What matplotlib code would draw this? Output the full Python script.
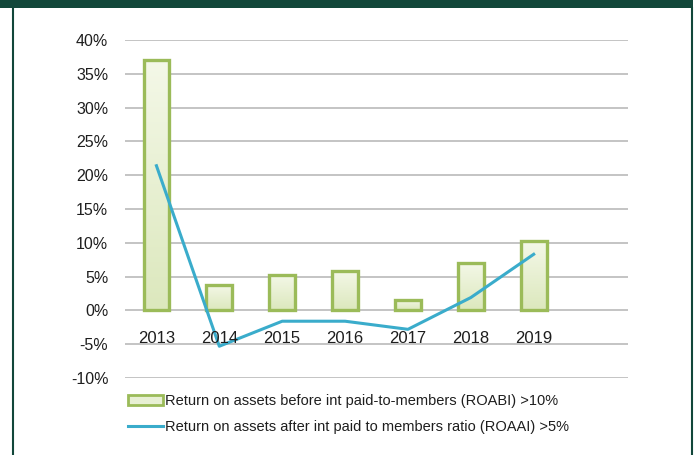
import numpy as np
import matplotlib
matplotlib.use('Agg')
import matplotlib.pyplot as plt
from matplotlib.patches import Rectangle, Patch
from matplotlib.lines import Line2D
from matplotlib.colors import LinearSegmentedColormap

# data (percent)
years = ['2013', '2014', '2015', '2016', '2017', '2018', '2019']
roabi = [37.0, 3.8, 5.3, 5.8, 1.5, 7.0, 10.2]
roaai = [21.4, -5.3, -1.6, -1.6, -2.8, 1.9, 8.3]
yticks = [-10, -5, 0, 5, 10, 15, 20, 25, 30, 35, 40]

plt.rcParams['font.family'] = ['Liberation Sans', 'DejaVu Sans']

fig = plt.figure(figsize=(6.97, 4.55), dpi=100)
ax = fig.add_axes([125/697, 1 - 378/455, 503/697, 338/455])

x = np.arange(len(years))

# grid
for t in yticks:
    ax.axhline(t, color='#c4c4c4', lw=1.4, zorder=0)

# bars with gradient fill
bw = 0.41
bars = ax.bar(x, roabi, width=bw, facecolor='none', edgecolor='#9bbb59', lw=2.4, zorder=3)
grad = np.linspace(0, 1, 100).reshape(-1, 1)
cmap = LinearSegmentedColormap.from_list('g', ['#f4f8e8', '#dce8bd'])
for b in bars:
    x0, y0 = b.get_x(), b.get_y()
    im = ax.imshow(grad, cmap=cmap, aspect='auto', origin='upper',
                   extent=[x0, x0 + b.get_width(), y0, y0 + b.get_height()], zorder=2)
    im.set_clip_path(b)
ax.set_xlim(-0.5, 7.5)
ax.set_ylim(-10, 40)

# line
ax.plot(x, roaai, color='#3aaccb', lw=2.2, zorder=4)

# category labels next to zero line
for i, y in enumerate(years):
    ax.text(i, -4.1, y, ha='center', va='center', fontsize=12, color='#1e1e1e', zorder=5)

ax.set_xticks([])
ax.set_yticks(yticks)
ax.set_yticklabels([f'{t}%' for t in yticks], fontsize=11.5, color='#1e1e1e')
ax.tick_params(axis='y', length=0, pad=12)
for s in ax.spines.values():
    s.set_visible(False)

# legend
handles = [Patch(facecolor='#e8f0d4', edgecolor='#9bbb59', lw=2),
           Line2D([0], [0], color='#3aaccb', lw=2.2)]
labels = ['Return on assets before int paid-to-members (ROABI) >10%',
          'Return on assets after int paid to members ratio (ROAAI) >5%']
fig.legend(handles, labels, loc='upper left', bbox_to_anchor=(128/697, 1 - 394/455),
           frameon=False, fontsize=10.5, handlelength=2.4, handleheight=0.75,
           handletextpad=0.15, labelspacing=0.85, borderaxespad=0, borderpad=0,
           labelcolor='#1e1e1e')

# frame decoration
dark = '#12473a'
fig.patches.append(Rectangle((0, 1 - 8/455), 693/697, 8/455, transform=fig.transFigure,
                             facecolor=dark, edgecolor='none', zorder=10))
fig.add_artist(Line2D([13.5/697, 13.5/697], [0, 1 - 8/455], color=dark, lw=1.5))
fig.add_artist(Line2D([692/697, 692/697], [0, 1 - 8/455], color=dark, lw=1.5))

fig.savefig('out.png', dpi=100)
